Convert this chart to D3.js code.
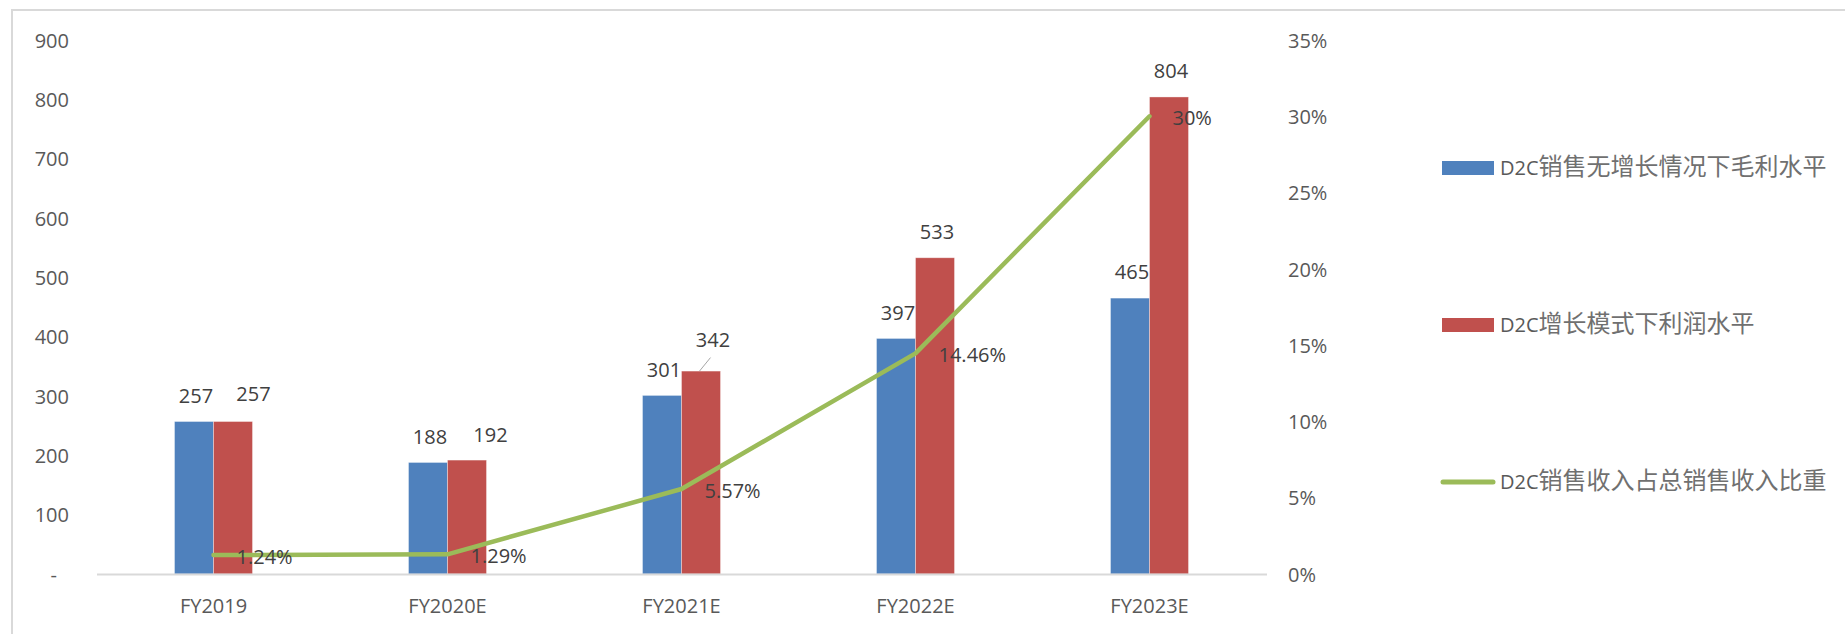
<!DOCTYPE html>
<html>
<head>
<meta charset="utf-8">
<script src="https://cdn.jsdelivr.net/npm/d3@7"></script>
<style>
  body { margin: 0; background: #fff; }
  svg text { font-family: "Open Sans", "Noto Sans CJK SC", sans-serif; }
</style>
</head>
<body>
<svg id="chart" width="1845" height="634"></svg>
<script>
// ---- data ----
const categories = ["FY2019", "FY2020E", "FY2021E", "FY2022E", "FY2023E"];
const seriesNames = [
  "D2C销售无增长情况下毛利水平",
  "D2C增长模式下利润水平",
  "D2C销售收入占总销售收入比重"
];
const grossNoGrowth = [257, 188, 301, 397, 465];      // 毛利水平
const profitGrowth  = [257, 192, 342, 533, 804];      // 利润水平
const d2cShare      = [1.24, 1.29, 5.57, 14.46, 30];  // 占比, %
const shareLabels   = ["1.24%", "1.29%", "5.57%", "14.46%", "30%"];
const leftTicks  = [0, 100, 200, 300, 400, 500, 600, 700, 800, 900];
const rightTicks = [0, 5, 10, 15, 20, 25, 30, 35];

// ---- layout ----
const W = 1845, H = 634;
const plotLeft = 96.5, plotRight = 1266.5, plotTop = 40, plotBottom = 574;
const colors = { blue: "#4F81BD", red: "#C0504D", green: "#9BBB59" };
const tickColor = "#595959", labelColor = "#404040", gridColor = "#d9d9d9";
const fontSize = 20;
// hand-placed label offsets (dx, dy from the default spot above each bar)
const profitLabelShift = [[18.5, -1.5], [21.5, 1], [10, -5], [0, 0], [0, 0]];

const svg = d3.select("#chart");

// outer frame
svg.append("path")
  .attr("d", `M12,${H + 2}V10H${W + 2}`)
  .attr("fill", "none").attr("stroke", gridColor).attr("stroke-width", 2);

// ---- scales ----
const x = d3.scaleBand().domain(categories).range([plotLeft, plotRight]).padding(0);
const inner = d3.scaleBand().domain([0, 1])
  .range([x.bandwidth() / 3, x.bandwidth() * 2 / 3]).padding(0);
const yL = d3.scaleLinear().domain([0, 900]).range([plotBottom, plotTop]);
const yR = d3.scaleLinear().domain([0, 35]).range([plotBottom, plotTop]);

// ---- axes ----
const leftAxis = svg.append("g")
  .attr("transform", "translate(69,0)")
  .call(d3.axisLeft(yL).tickValues(leftTicks).tickSize(0).tickPadding(0)
    .tickFormat(d => d === 0 ? "-" : d));
leftAxis.select(".domain").remove();
leftAxis.selectAll("text")
  .attr("fill", tickColor).attr("font-size", fontSize)
  .attr("font-family", "Open Sans, sans-serif")
  .attr("dy", "0.36em")
  .attr("dx", d => d === 0 ? -12 : 0);

const rightAxis = svg.append("g")
  .attr("transform", "translate(1288,0)")
  .call(d3.axisRight(yR).tickValues(rightTicks).tickSize(0).tickPadding(0)
    .tickFormat(d => d + "%"));
rightAxis.select(".domain").remove();
rightAxis.selectAll("text")
  .attr("fill", tickColor).attr("font-size", fontSize)
  .attr("font-family", "Open Sans, sans-serif")
  .attr("dy", "0.36em");

// ---- bars ----
const bars = svg.append("g");
const barSeries = [
  { values: grossNoGrowth, color: colors.blue, idx: 0 },
  { values: profitGrowth,  color: colors.red,  idx: 1 }
];
barSeries.forEach(s => {
  bars.selectAll(null).data(s.values).enter().append("rect")
    .attr("x", (d, i) => x(categories[i]) + inner(s.idx))
    .attr("y", d => yL(d))
    .attr("width", inner.bandwidth())
    .attr("height", d => yL(0) - yL(d))
    .attr("fill", s.color)
    .attr("stroke", "rgba(255,255,255,0.45)")
    .attr("stroke-width", 0.8);
});

const bottomAxis = svg.append("g")
  .attr("transform", `translate(0,${plotBottom})`)
  .call(d3.axisBottom(x).tickSize(0).tickPadding(0));
bottomAxis.select(".domain")
  .attr("stroke", gridColor).attr("stroke-width", 2);
bottomAxis.selectAll("text")
  .attr("fill", tickColor).attr("font-size", fontSize)
  .attr("font-family", "Open Sans, sans-serif")
  .attr("y", 32).attr("dy", "0.36em");

// ---- line ----
const line = d3.line()
  .x((d, i) => x(categories[i]) + x.bandwidth() / 2)
  .y(d => yR(d));
svg.append("path")
  .datum(d2cShare)
  .attr("d", line)
  .attr("fill", "none")
  .attr("stroke", colors.green)
  .attr("stroke-width", 4.5)
  .attr("stroke-linejoin", "round")
  .attr("stroke-linecap", "round");

// ---- data labels ----
const labels = svg.append("g")
  .attr("font-size", fontSize).attr("fill", labelColor)
  .attr("font-family", "Open Sans, sans-serif");

barSeries.forEach(s => {
  s.values.forEach((v, i) => {
    const shift = s.idx === 1 ? profitLabelShift[i] : [0, 0];
    const cx = x(categories[i]) + inner(s.idx) + inner.bandwidth() / 2 + 2 + shift[0];
    const cy = yL(v) - 26 + shift[1];
    labels.append("text")
      .attr("x", cx).attr("y", cy).attr("dy", "0.36em")
      .attr("text-anchor", "middle")
      .text(v);
    if (s.idx === 1 && i === 2) {
      // leader line from the moved label back to its bar
      labels.append("line")
        .attr("x1", cx - 2.5).attr("y1", cy + 17.5)
        .attr("x2", cx - 13.5).attr("y2", yL(v))
        .attr("stroke", "#a6a6a6").attr("stroke-width", 1);
    }
  });
});

d2cShare.forEach((v, i) => {
  labels.append("text")
    .attr("x", x(categories[i]) + x.bandwidth() / 2 + 23)
    .attr("y", yR(v) + 1.5).attr("dy", "0.36em")
    .attr("text-anchor", "start")
    .text(shareLabels[i]);
});

// ---- legend ----
const legendY = [168, 325, 482];
const legend = svg.append("g");
seriesNames.forEach((name, i) => {
  const cy = legendY[i];
  if (i < 2) {
    legend.append("rect")
      .attr("x", 1442).attr("y", cy - 7)
      .attr("width", 52).attr("height", 14)
      .attr("fill", i === 0 ? colors.blue : colors.red);
  } else {
    legend.append("line")
      .attr("x1", 1443).attr("x2", 1493)
      .attr("y1", cy).attr("y2", cy)
      .attr("stroke", colors.green).attr("stroke-width", 5)
      .attr("stroke-linecap", "round");
  }
  const t = legend.append("text")
    .attr("x", 1500).attr("y", cy + 6.5);
  t.append("tspan")
    .attr("font-family", "Open Sans, sans-serif")
    .attr("font-size", 20).attr("fill", tickColor)
    .text(name.slice(0, 3));
  t.append("tspan")
    .attr("font-family", "Noto Sans CJK SC, sans-serif")
    .attr("font-size", 24).attr("fill", "#707070")
    .text(name.slice(3));
});
</script>
</body>
</html>
